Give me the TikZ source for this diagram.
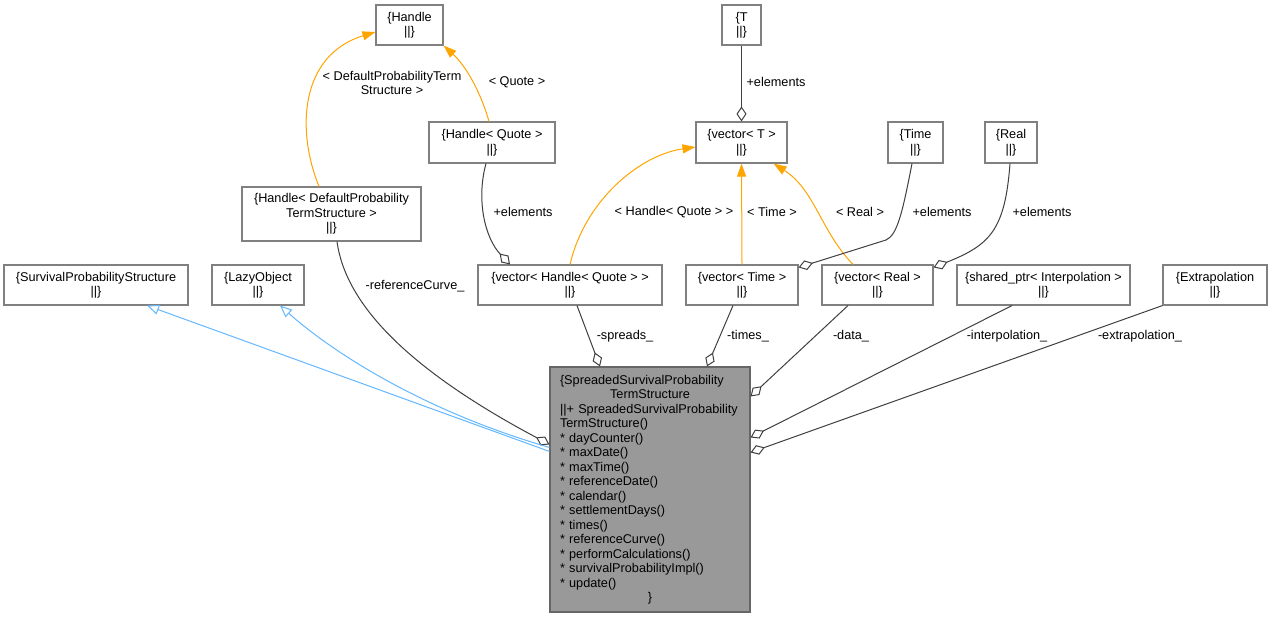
\documentclass[tikz,border=0pt]{standalone}
\usepackage{fontspec}
\setmainfont{Liberation Sans}
\usetikzlibrary{arrows.meta}
\definecolor{edgegray}{HTML}{404040}
\definecolor{boxgray}{HTML}{808080}
\definecolor{mainfill}{HTML}{999999}
\definecolor{mainborder}{HTML}{666666}
\definecolor{inhblue}{HTML}{63B8FF}
\definecolor{tmplorange}{HTML}{FFA500}
\begin{document}
\begin{tikzpicture}[x=1pt,y=-1pt,
  every node/.style={font=\fontsize{12.7}{14.5}\selectfont},
  cls/.style={draw=boxgray, line width=1.1pt, fill=white, rectangle, align=center, inner sep=0pt, minimum height=40pt},
  mainbox/.style={draw=mainborder, line width=1.1pt, fill=mainfill, rectangle, align=left, text width=180pt, inner xsep=10pt, inner ysep=0pt, minimum width=200pt, minimum height=245pt},
  lbl/.style={inner sep=0pt, align=center},
  agg/.style={draw=edgegray, line width=1pt, -{Diamond[fill=white, length=15pt, width=10pt, line width=1pt]}},
  tmpl/.style={draw=tmplorange, line width=1pt, -{Triangle[length=13pt, width=9pt]}},
  inh/.style={draw=inhblue, line width=1pt, -{Triangle[fill=white, length=12pt, width=10pt, line width=1pt]}}
]
\useasboundingbox (0,0) rectangle (1272,619);
\fill[white] (0,0) rectangle (1272,619);

% class boxes
\node[cls, minimum width=67pt] (handle) at (409.5,25) {\{Handle\\\textbar\textbar\}};
\node[cls, minimum width=179pt, minimum height=54pt] (hdpts) at (331.5,214) {\{Handle< DefaultProbability\\TermStructure >\\\textbar\textbar\}};
\node[cls, minimum width=126pt, minimum height=41pt] (hquote) at (492,142.5) {\{Handle< Quote >\\\textbar\textbar\}};
\node[cls, minimum width=39pt] (T) at (741.5,25) {\{T\\\textbar\textbar\}};
\node[cls, minimum width=91pt, minimum height=41pt] (vT) at (741.5,142.5) {\{vector< T >\\\textbar\textbar\}};
\node[cls, minimum width=55pt, minimum height=41pt] (time) at (915.5,142.5) {\{Time\\\textbar\textbar\}};
\node[cls, minimum width=52pt, minimum height=41pt] (real) at (1011,142.5) {\{Real\\\textbar\textbar\}};
\node[cls, minimum width=184pt] (sps) at (96,285) {\{SurvivalProbabilityStructure\\\textbar\textbar\}};
\node[cls, minimum width=92pt] (lazy) at (258,285) {\{LazyObject\\\textbar\textbar\}};
\node[cls, minimum width=184pt] (vhq) at (570,285) {\{vector< Handle< Quote > >\\\textbar\textbar\}};
\node[cls, minimum width=112pt] (vtime) at (742,285) {\{vector< Time >\\\textbar\textbar\}};
\node[cls, minimum width=111pt] (vreal) at (877.5,285) {\{vector< Real >\\\textbar\textbar\}};
\node[cls, minimum width=173pt] (sptr) at (1043.5,285) {\{shared\_ptr< Interpolation >\\\textbar\textbar\}};
\node[cls, minimum width=104pt] (extrap) at (1215,285) {\{Extrapolation\\\textbar\textbar\}};

\node[mainbox] (main) at (650,489.5) {\{SpreadedSurvivalProbability\\
\makebox[180pt][c]{TermStructure}\\
\textbar\textbar+ SpreadedSurvivalProbability\\
TermStructure()\\
{*} dayCounter()\\
{*} maxDate()\\
{*} maxTime()\\
{*} referenceDate()\\
{*} calendar()\\
{*} settlementDays()\\
{*} times()\\
{*} referenceCurve()\\
{*} performCalculations()\\
{*} survivalProbabilityImpl()\\
{*} update()\\
\makebox[180pt][c]{\}}};

% template (orange) edges
\draw[tmpl] ([xshift=-12.5pt]hdpts.north) .. controls (296,130) and (300,55) .. ([yshift=-7pt]handle.west);
\draw[tmpl] ([xshift=-3pt]hquote.north) .. controls (480,90) and (465,65) .. (handle.south east);
\draw[tmpl] (vhq.north) .. controls (585,200) and (640,155) .. ([yshift=-4.5pt]vT.west);
\draw[tmpl] (vtime.north) -- (vT.south);
\draw[tmpl] ([xshift=-24.5pt]vreal.north) .. controls (820,230) and (815,190) .. ([xshift=-14pt]vT.south east);

% aggregation edges
\coordinate (tbend) at (886,240);
\draw[agg] (T.south) -- (vT.north);
\draw[agg] ([xshift=-6pt]hquote.south) .. controls (476,200) and (485,238) .. ([xshift=-60pt]vhq.north);
\draw[agg] ([xshift=-3.5pt]time.south) .. controls (902,215) and (897,235) .. (tbend) -- ([yshift=-3pt]vtime.north east);
\draw[agg] ([xshift=-1pt]real.south) .. controls (1005,230) and (990,245) .. ([yshift=-3pt]vreal.north east);
\draw[agg] ([xshift=5.5pt]hdpts.south) .. controls (345,300) and (400,365) .. ([yshift=-78pt]main.north west);
\draw[agg] ([xshift=7pt]vhq.south) -- ([xshift=-50pt]main.north);
\draw[agg] ([xshift=-9pt]vtime.south) -- ([xshift=57pt]main.north);
\draw[agg] ([xshift=-29.5pt]vreal.south) -- ([yshift=-30pt]main.north east);
\draw[agg] ([xshift=-31.5pt]sptr.south) -- ([yshift=-71pt]main.north east);
\draw[agg] (extrap.south west) -- ([yshift=-86pt]main.north east);

% inheritance edges
\draw[inh] ([yshift=-85pt]main.north west) -- ([xshift=51pt]sps.south);
\draw[inh] ([yshift=-81pt]main.north west) .. controls (420,410) and (330,350) .. ([xshift=22pt]lazy.south);

% labels
\node[lbl] (l1) at (392,83) {< DefaultProbabilityTerm\\Structure >};
\node[lbl] (l2) at (517,82) {< Quote >};
\node[lbl] (l3) at (776,82) {+elements};
\node[lbl] (l4) at (523,212) {+elements};
\node[lbl] (l5) at (674,212) {< Handle< Quote > >};
\node[lbl] (l6) at (772,212) {< Time >};
\node[lbl] (l7) at (860,212) {< Real >};
\node[lbl] (l8) at (942,212) {+elements};
\node[lbl] (l9) at (1042,212) {+elements};
\node[lbl] (l10) at (415,286) {-referenceCurve\_};
\node[lbl] (l11) at (625,336) {-spreads\_};
\node[lbl] (l12) at (748,336) {-times\_};
\node[lbl] (l13) at (851,336) {-data\_};
\node[lbl] (l14) at (1007,336) {-interpolation\_};
\node[lbl] (l15) at (1140,336) {-extrapolation\_};
\end{tikzpicture}
\end{document}
